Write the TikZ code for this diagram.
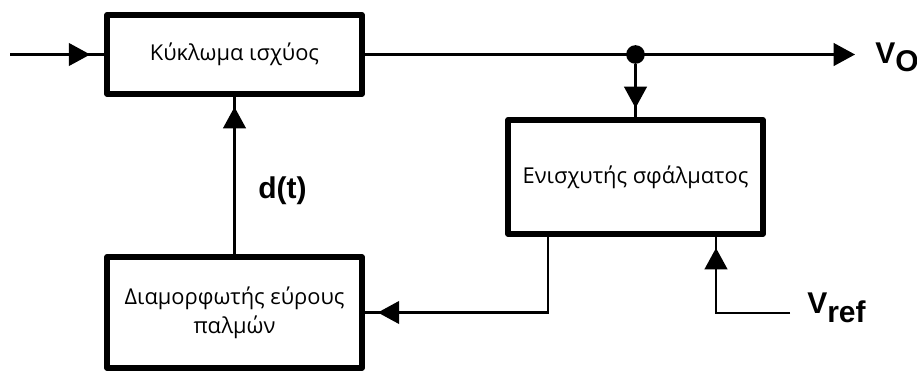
\documentclass[tikz,border=0pt]{standalone}
\usepackage{fontspec}
\setmainfont{Open Sans}
\newfontfamily\lblfont{Liberation Sans}
\usetikzlibrary{arrows.meta, positioning, calc, decorations.markings}

\tikzset{
  >={Triangle[length=16pt,width=17pt]},
  block/.style={draw, line width=4.5pt, line join=round, fill=white, align=center,
    minimum width=191pt, font=\fontsize{16.4}{22}\selectfont},
  wire/.style={line width=1.6pt},
  tipat/.style={postaction={decorate, decoration={markings,
    mark=at position #1 with {\arrow{>}}}}},
  sig/.style={inner sep=0pt, font=\lblfont\bfseries\fontsize{22.5}{26}\selectfont},
  tapdot/.style={circle, fill, inner sep=0pt, minimum size=14pt}
}

\begin{document}
\begin{tikzpicture}[x=0.75pt, y=-0.75pt]
  \useasboundingbox (0,0) rectangle (917,372);

  % blocks
  \node[block, minimum height=59.25pt] (pc) at (234.5,54.5) {Κύκλωμα ισχύος};
  \node[block, minimum height=85.5pt] (ea) at (635.5,177) {Ενισχυτής σφάλματος};
  \node[block, minimum height=83.25pt] (pwm) at (234.5,312.5) {Διαμορφωτής εύρους\\παλμών};

  % free ends
  \coordinate (vin) at (10,54.5);
  \coordinate (vout) at (855,54.5);
  \coordinate (vrefin) at (790,313);
  \node[tapdot] (tap) at (635.5,54.5) {};

  % forward path
  \draw[wire, tipat=-10.5pt] (vin) -- (pc.west);
  \draw[wire, ->] (pc.east) -- (vout);

  % feedback loop
  \draw[wire, tipat=-6.75pt] (tap) -- (ea.north);
  \draw[wire, tipat=-9.75pt] ($(ea.south)+(-87.5,0)$) |- (pwm.east);
  \draw[wire, tipat=-7.5pt] (pwm.north) -- (pc.south);
  \draw[wire, tipat=-8.25pt] (vrefin) -| ($(ea.south)+(80.5,0)$);

  % signal names
  \node[sig, anchor=base west] (vo) at (875,63) {V\raisebox{-6.5pt}{O}};
  \node[sig, anchor=base west] (vref) at (807,313) {V\raisebox{-7pt}{ref}};
  \node[sig, anchor=base west] (dt) at (258,198) {d(t)};
\end{tikzpicture}
\end{document}
